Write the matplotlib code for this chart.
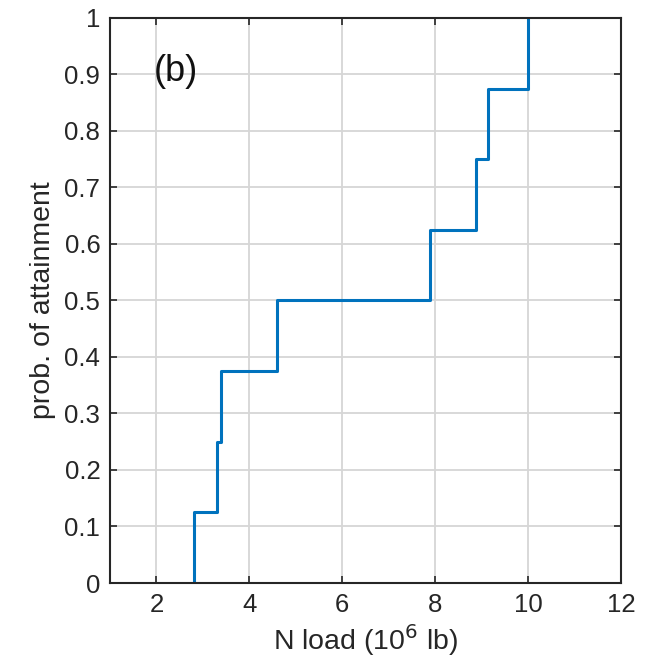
import numpy as np
import matplotlib
matplotlib.use("Agg")
import matplotlib.pyplot as plt

# N loads (10^6 lb) at each step, and cumulative probability of attainment
loads = [2.81, 3.30, 3.38, 4.59, 7.89, 8.88, 9.15, 9.99]
probs = [1/8, 2/8, 3/8, 4/8, 5/8, 6/8, 7/8, 8/8]
xticks = [2, 4, 6, 8, 10, 12]
yticks = [0, 0.1, 0.2, 0.3, 0.4, 0.5, 0.6, 0.7, 0.8, 0.9, 1]

plt.rcParams.update({
    "font.family": ["Liberation Sans", "DejaVu Sans"],
    "xtick.direction": "in", "ytick.direction": "in",
    "xtick.top": True, "ytick.right": True,
})

INK = "#262626"
fig = plt.figure(figsize=(6.57, 6.61), dpi=100)
ax = fig.add_axes([0.1674, 0.118, 0.7776, 0.8548])

xs = np.r_[loads[0], loads]
ys = np.r_[0, probs]
ax.step(xs, ys, where="post", color="#0072BD", linewidth=2.2)

ax.set_xlim(1, 12)
ax.set_ylim(0, 1)
ax.set_xticks(xticks)
ax.set_yticks(yticks)
ax.set_yticklabels([f"{v:g}" for v in yticks])
ax.grid(True, color="#d6d6d6", linewidth=1.3)
ax.set_axisbelow(True)
for s in ax.spines.values():
    s.set_color(INK)
    s.set_linewidth(1.5)
ax.tick_params(colors=INK, labelsize=18.5, length=5, width=1.2, pad=7)

ax.set_xlabel("N load (10$^6$ lb)", fontsize=20.5, color=INK, labelpad=4)
ax.set_ylabel("prob. of attainment", fontsize=20.5, color=INK, labelpad=6)
ax.text(1.95, 0.905, "(b)", fontsize=26, color="#111111", va="center")

fig.savefig("out.png", dpi=100)
